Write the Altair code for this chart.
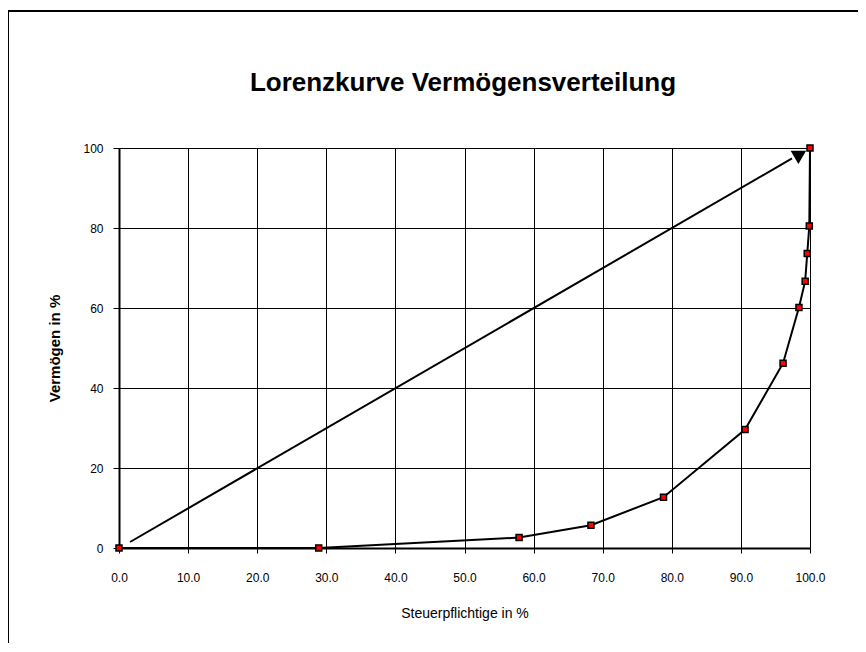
import altair as alt
import pandas as pd

# Lorenz curve data
steuerpflichtige = [0.0, 28.9, 57.9, 68.3, 78.8, 90.6, 96.1, 98.4, 99.3, 99.6, 99.9, 100.0]
vermoegen = [0.0, 0.0, 2.6, 5.7, 12.7, 29.6, 46.2, 60.1, 66.7, 73.6, 80.5, 100.0]

# Equal-distribution arrow (line of equality)
diag_x = [1.6, 97.4]
diag_y = [1.5, 97.4]
arrow_tip_x = [98.6]
arrow_tip_y = [98.5]

x_ticks = [0, 10, 20, 30, 40, 50, 60, 70, 80, 90, 100]
y_ticks = [0, 20, 40, 60, 80, 100]

chart_title = ["Lorenzkurve Vermögensverteilung"]

FONT = "Liberation Sans"

curve = pd.DataFrame({"x": steuerpflichtige, "y": vermoegen, "order": list(range(len(steuerpflichtige)))})
diag = pd.DataFrame({"x": diag_x, "y": diag_y})
tip = pd.DataFrame({"x": arrow_tip_x, "y": arrow_tip_y})

xscale = alt.Scale(domain=[0, 100], nice=False, zero=False)
yscale = alt.Scale(domain=[0, 100], nice=False, zero=False)

x_axis = alt.Axis(values=x_ticks, format=".1f", title="Steuerpflichtige in %",
                  grid=True, gridColor="black", gridWidth=1, gridOpacity=1,
                  domainColor="black", domainWidth=2, tickColor="black", tickSize=5, tickWidth=1,
                  labelFont=FONT, labelFontSize=12, labelColor="black", labelPadding=19,
                  labelFlush=False, labelOverlap=False,
                  titleFont=FONT, titleFontSize=14, titleFontWeight="normal", titleColor="black",
                  titlePadding=23)
y_axis = alt.Axis(values=y_ticks, format="d", title="Vermögen in %",
                  grid=True, gridColor="black", gridWidth=1, gridOpacity=1,
                  domainColor="black", domainWidth=2, tickColor="black", tickSize=6, tickWidth=1,
                  labelFont=FONT, labelFontSize=12, labelColor="black", labelPadding=10,
                  labelFlush=False, labelOverlap=False,
                  titleFont=FONT, titleFontSize=15, titleFontWeight="bold", titleColor="black",
                  titlePadding=20)

frame = alt.Chart(pd.DataFrame({"a": [0]})).mark_rect(
    fill=None, stroke="black", strokeWidth=2, clip=False
).encode(x=alt.value(-111), y=alt.value(-137), x2=alt.value(760), y2=alt.value(520))

title_text = alt.Chart(pd.DataFrame({"t": chart_title})).mark_text(
    font=FONT, fontSize=26, fontWeight="bold", color="black", align="center", baseline="alphabetic"
).encode(text="t:N", x=alt.value(344), y=alt.value(-57))

diag_line = alt.Chart(diag).mark_line(color="black", strokeWidth=2).encode(
    x=alt.X("x:Q", scale=xscale, axis=x_axis),
    y=alt.Y("y:Q", scale=yscale, axis=y_axis),
)

arrow = alt.Chart(tip).mark_point(shape="triangle-up", filled=True, color="black",
                                   size=240, angle=60, opacity=1).encode(
    x=alt.X("x:Q", scale=xscale), y=alt.Y("y:Q", scale=yscale))

line = alt.Chart(curve).mark_line(color="black", strokeWidth=2).encode(
    x=alt.X("x:Q", scale=xscale), y=alt.Y("y:Q", scale=yscale), order="order:Q")

pts = alt.Chart(curve).mark_point(shape="square", filled=True, fill="#ff0000", stroke="black",
                                  strokeWidth=1.5, size=36, opacity=1).encode(
    x=alt.X("x:Q", scale=xscale), y=alt.Y("y:Q", scale=yscale))

chart = alt.layer(diag_line, arrow, line, pts, frame, title_text).properties(
    width=691, height=400,
    autosize=alt.AutoSizeParams(type="none"),
    padding={"left": 111, "top": 140, "right": 48, "bottom": 95},
).configure_view(stroke=None).configure(background="white")

chart.save("out.html", embed_options={"renderer": "svg", "actions": False})
